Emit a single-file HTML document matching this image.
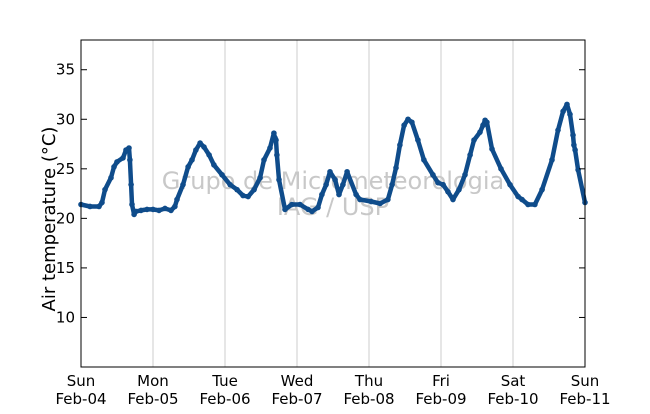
<!DOCTYPE html>
<html><head><meta charset="utf-8"><style>
body{margin:0;background:#fff;}
svg text{font-family:"DejaVu Sans","Liberation Sans",sans-serif;}
</style></head><body>
<svg id="chart" width="650" height="409" viewBox="0 0 650 409" xmlns="http://www.w3.org/2000/svg">
<rect x="0" y="0" width="650" height="409" fill="#fff"/>
<g id="grid"></g>
<g id="wm">
<text x="333" y="189" text-anchor="middle" font-size="24" fill="#c8c8c8">Grupo de Micrometeorologia</text>
<text x="333" y="215" text-anchor="middle" font-size="24" fill="#c8c8c8">IAG / USP</text>
</g>
<g id="series"></g>
<rect x="81" y="40" width="504" height="327" fill="none" stroke="#000" stroke-width="1"/>
<g id="axes"></g>
<text transform="translate(55,219) rotate(-90)" text-anchor="middle" font-size="18" fill="#000">Air temperature (°C)</text>
</svg>
<script>
const hours=[0,3,6,7,8,10,11,12,14,15,16,16.3,16.7,17,17.7,18.3,20,22,24,26,28,30,31.3,32,34,35.7,37,38.3,39.7,41,42.7,44.3,47,49.7,52,54,55.7,57.7,59.7,61,63,64.3,64.7,65,65.3,66,68,70.3,73,75.7,77,79,80.3,81.7,83,84.7,86,87.3,88.7,91.7,93,96.7,99.7,102.3,103.7,105,106.3,107.7,109,110.3,112.3,114.3,117.3,119,120.7,122.3,124,126,128,129.7,131,133,134,134.7,135.3,137,140,143,145.7,147,149,151.3,153.7,157,159,160.7,162,163,164,164.3,164.7,165.7,168];
const temps=[21.4,21.2,21.2,21.6,22.9,24.1,25.2,25.7,26.1,26.9,27.1,25.9,23.4,21.4,20.4,20.7,20.8,20.9,20.9,20.8,21.0,20.8,21.2,21.9,23.4,25.2,25.9,26.9,27.6,27.2,26.4,25.4,24.4,23.4,22.9,22.3,22.2,22.9,24.1,25.9,27.1,28.6,28.1,27.9,26.4,23.9,20.9,21.4,21.4,20.9,20.7,21.1,22.4,23.4,24.7,23.9,22.4,23.4,24.7,22.4,21.9,21.7,21.5,21.9,23.4,25.1,27.4,29.4,30.0,29.7,27.9,25.9,24.4,23.6,23.4,22.7,21.9,22.9,24.4,26.4,27.9,28.7,29.4,29.9,29.7,27.0,25.0,23.4,22.2,21.9,21.4,21.4,22.9,25.9,28.9,30.8,31.5,30.5,28.4,27.4,26.9,24.9,21.6,21.9];
const dayLabels=["Sun","Mon","Tue","Wed","Thu","Fri","Sat","Sun"];
const dateLabels=["Feb-04","Feb-05","Feb-06","Feb-07","Feb-08","Feb-09","Feb-10","Feb-11"];
const yTicks=[10,15,20,25,30,35];
const NS="http://www.w3.org/2000/svg";
const L=81,R=585,T=40,B=367,YMIN=5,YMAX=38,XMAX=168;
const xs=h=>L+(R-L)*h/XMAX;
const ys=v=>B-(B-T)*(v-YMIN)/(YMAX-YMIN);
function mk(tag,attrs,parent){const e=document.createElementNS(NS,tag);for(const k in attrs)e.setAttribute(k,attrs[k]);parent.appendChild(e);return e;}
const grid=document.getElementById('grid'),axes=document.getElementById('axes'),ser=document.getElementById('series');
dateLabels.forEach((d,i)=>{
  const x=xs(i*24);
  if(i>0&&i<7){const g=mk('line',{x1:x,x2:x,y1:T,y2:B,stroke:'#cccccc','stroke-width':1},grid);
  
  }
  const t1=mk('text',{x:x,y:386,'text-anchor':'middle','font-size':15,fill:'#000'},axes);t1.textContent=dayLabels[i];
  
  
  const t2=mk('text',{x:x,y:404,'text-anchor':'middle','font-size':15,fill:'#000'},axes);t2.textContent=d;
  
  
});
yTicks.forEach(v=>{
  const y=ys(v);
  mk('line',{x1:L,x2:L+6,y1:y,y2:y,stroke:'#000'},axes);
  mk('line',{x1:R-6,x2:R,y1:y,y2:y,stroke:'#000'},axes);
  const t=mk('text',{x:L-6,y:y+5,'text-anchor':'end','font-size':15,fill:'#000'},axes);t.textContent=v;
  
  
});
const pts=hours.map((h,i)=>xs(h).toFixed(1)+','+ys(temps[i]).toFixed(1)).join(' ');
const pl=mk('polyline',{points:pts,fill:'none',stroke:'#0f4c8b','stroke-width':4.5,'stroke-linejoin':'round','stroke-linecap':'round'},ser);


hours.forEach((h,i)=>{
  const c=mk('circle',{cx:xs(h),cy:ys(temps[i]),r:2.8,fill:'#0f4c8b'},ser);
  
  
});
</script>
</body></html>
